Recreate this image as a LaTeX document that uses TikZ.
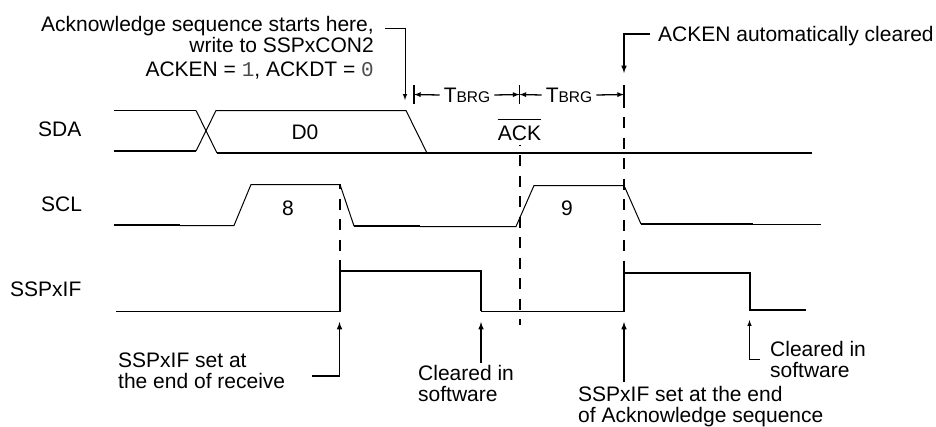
\documentclass[tikz,border=0pt]{standalone}
\usepackage{fontspec}
\setmainfont{Liberation Sans}
\newfontfamily\codefont{Liberation Mono}
\usetikzlibrary{calc, arrows, positioning}
\newcommand{\tbrg}{T{\fontsize{15.5}{16}\selectfont BRG}}
\newcommand{\codeval}[1]{{\codefont\color{black!70}#1}}
\tikzset{
  lbl/.style={inner sep=0pt,font=\fontsize{21}{21}\selectfont},
  sigthick/.style={line width=1.9pt},
  sigthin/.style={line width=1pt},
  guide/.style={line width=2pt, dash pattern=on 11pt off 9.5pt},
  tick/.style={line width=1.8pt},
  callout/.style={-latex, line width=1.5pt},
  calloutthin/.style={-latex, line width=1pt},
  span/.style={-latex, line width=1.3pt}
}

\begin{document}
\begin{tikzpicture}[x=1pt,y=-1pt]
  \useasboundingbox (0,0) rectangle (936,426);
  \node[lbl, anchor=base west] (SDA) at (38,136) {SDA};
  \node[lbl, anchor=base west] (SCL) at (41,211) {SCL};
  \node[lbl, anchor=base west] (IF) at (10,296) {SSPxIF};
  \node[lbl, anchor=base] (D0) at (305,139.5) {D0};
  \node[lbl, anchor=base] (N8) at (288,215) {8};
  \node[lbl, anchor=base] (N9) at (567,215) {9};
  \node[lbl, anchor=base] (ACK) at (519.5,140) {ACK};
  \draw[sigthin] ($(ACK.north west)+(0,-5.5)$) -- ($(ACK.north east)+(0,-5.5)$);

  \node[lbl, anchor=north east, align=right] (start) at (374,16) {Acknowledge sequence starts here,\\write to SSPxCON2\\[3pt]ACKEN = \codeval{1}, ACKDT = \codeval{0}};
  \node[lbl, anchor=base west] (cleared) at (658,41) {ACKEN automatically cleared};
  \node[lbl, anchor=north west, align=left] (setrx) at (118,353) {SSPxIF set at\\the end of receive};
  \node[lbl, anchor=north west, align=left] (clr1) at (418,365) {Cleared in\\software};
  \node[lbl, anchor=north west, align=left] (setack) at (578,386) {SSPxIF set at the end\\of Acknowledge sequence};
  \node[lbl, anchor=north west, align=left] (clr2) at (770,341) {Cleared in\\software};

  \node[lbl, anchor=base] (T1) at (467,102) {\tbrg};
  \node[lbl, anchor=base] (T2) at (569,102) {\tbrg};

  % SDA
  \draw[sigthick] (114,110.5) -- (196,110.5);
  \draw[sigthick] (114,151) -- (196,151);
  \draw[sigthin] (196,110.5) -- (217,153);
  \draw[sigthin] (196,151) -- (216,110.5) -- (406,110.5) -- (427,153);
  \draw[sigthick] (217,153) -- (812,153);

  % SCL
  \draw[sigthick] (114,225) -- (180,225);
  \draw[sigthin] (180,225.5) -- (234,225.5) -- (251,184.5) -- (340,184.5) -- (354,226);
  \draw[sigthick] (354,226) -- (420,226);
  \draw[sigthin] (420,226.5) -- (516,226.5) -- (534,185.5) -- (624,185.5) -- (641,224);
  \draw[sigthick] (641,224) -- (753,224);
  \draw[sigthin] (753,224.5) -- (821,224.5);

  % SSPxIF
  \draw[sigthin] (116,311.5) -- (340,311.5);
  \draw[sigthick] (340,311.5) -- (340,271) -- (481,271) -- (481,311);
  \draw[sigthin] (481,311.5) -- (624,311.5);
  \draw[sigthick] (624,311.5) -- (624,273) -- (750,273) -- (750,310) -- (806,310);

  % guides
  \draw[guide, dash phase=6pt] (340,184) -- (340,313);
  \draw[guide, dash phase=10pt] (520,144.5) -- (520,325);
  \draw[guide, dash phase=7.5pt] (624,104) -- (624,311);

  % TBRG
  \coordinate (t1) at (414,85);
  \coordinate (b1) at (414,104);
  \coordinate (t2) at (519.5,85);
  \coordinate (b2) at (519.5,104);
  \coordinate (t3) at (624,85);
  \coordinate (b3) at (624,104);
  \draw[tick] (t1) -- (b1);
  \draw[tick] (t2) -- (b2);
  \draw[tick] (t3) -- (b3);
  \draw[span] (T1.west |- 0,95) ++(-4,0) -- ($(t1)!.5!(b1)$);
  \draw[span] (T1.east |- 0,95) ++(4,0) -- ($(t2)!.5!(b2)$);
  \draw[span] (T2.west |- 0,95) ++(-4,0) -- ($(t2)!.5!(b2)$);
  \draw[span] (T2.east |- 0,95) ++(4,0) -- ($(t3)!.5!(b3)$);

  % callouts
  \coordinate (startfrom) at (385,28);
  \coordinate (startend) at (405,100);
  \draw[calloutthin] (startfrom) -| (startend);
  \coordinate (clrfrom) at (650,34);
  \coordinate (clrend) at (624,73);
  \draw[callout] (clrfrom) -| (clrend);
  \coordinate (rxfrom) at (312,376);
  \coordinate (rxend) at (339.5,322);
  \draw[callout] (rxfrom) -| (rxend);
  \coordinate (c1from) at (481,363);
  \coordinate (c1end) at (481,322);
  \draw[callout] (c1from) -- (c1end);
  \coordinate (ackfrom) at (624,382);
  \coordinate (ackend) at (624,322);
  \draw[callout] (ackfrom) -- (ackend);
  \coordinate (c2from) at (760,359);
  \coordinate (c2end) at (749.5,320);
  \draw[calloutthin] (c2from) -| (c2end);
\end{tikzpicture}
\end{document}
